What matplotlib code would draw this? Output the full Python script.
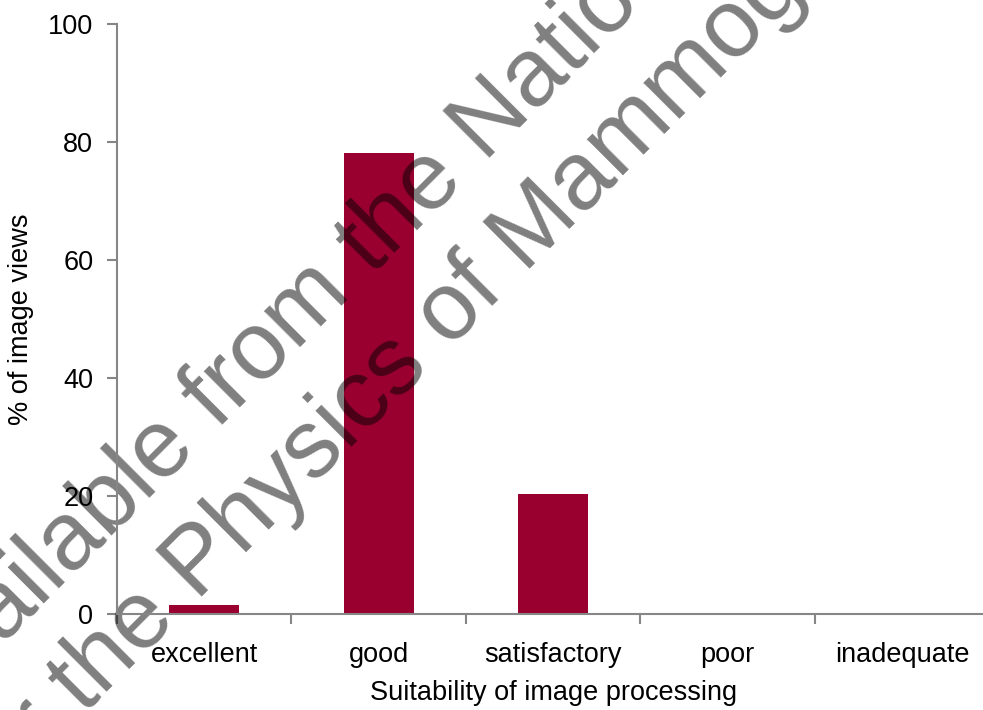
import matplotlib
matplotlib.use("Agg")
import matplotlib.pyplot as plt

plt.rcParams["font.family"] = ["Liberation Sans", "DejaVu Sans"]

# données
categories = ["excellent", "good", "satisfactory", "poor", "inadequate"]
percent_views = [1.5, 78.1, 20.3, 0.0, 0.0]
y_ticks = [0, 20, 40, 60, 80, 100]

bar_color = "#990030"
axis_grey = "#868686"

fig = plt.figure(figsize=(9.83, 7.10), dpi=100)
ax = fig.add_axes([0.119, 0.1352, 0.8876, 0.831])

x = list(range(len(categories)))
ax.bar(x, percent_views, width=0.4, color=bar_color, zorder=2)

ax.set_xlim(-0.5, len(categories) - 0.5)
ax.set_ylim(0, 100)
ax.set_yticks(y_ticks)
ax.set_xticks(x)
ax.set_xticklabels(categories)
ax.set_xticks([i + 0.5 for i in range(-1, len(categories))], minor=True)

for side in ("top", "right"):
    ax.spines[side].set_visible(False)
for side in ("left", "bottom"):
    ax.spines[side].set_color(axis_grey)
    ax.spines[side].set_linewidth(1.5)

ax.tick_params(axis="y", direction="out", length=7, width=1.5, color=axis_grey,
               labelsize=19.5, pad=10)
ax.tick_params(axis="x", which="major", length=0, labelsize=19.5, pad=20)
ax.tick_params(axis="x", which="minor", direction="out", length=7, width=1.5,
               color=axis_grey)

ax.set_ylabel("% of image views", fontsize=19.5, labelpad=10)
ax.set_xlabel("Suitability of image processing", fontsize=19.5, labelpad=9)

# filigrane (au-dessus des barres, sous les étiquettes)
wm = dict(fontsize=69, color="black", alpha=0.5, rotation=45,
          rotation_mode="anchor", ha="center", va="baseline", zorder=2.2,
          transform=fig.transFigure, clip_on=False)
ax.text(329 / 983, 391 / 710, "Available from the National", **wm)
ax.text(481 / 983, 393 / 710, "for the Physics of Mammography", **wm)

fig.savefig("out.png", dpi=100)
